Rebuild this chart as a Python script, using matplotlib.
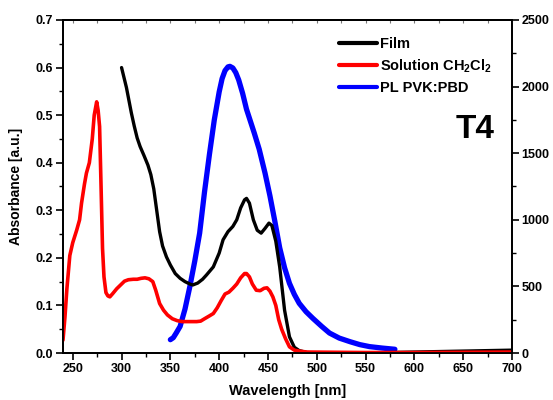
import matplotlib
matplotlib.use("Agg")
import matplotlib.pyplot as plt
from matplotlib.ticker import MultipleLocator, FormatStrFormatter, NullFormatter

plt.rcParams['font.family'] = ['Liberation Sans', 'DejaVu Sans']
plt.rcParams['font.weight'] = 'bold'
plt.rcParams['mathtext.default'] = 'regular'

# Film absorbance
film_wl = [300, 305, 310, 313, 316, 319, 323, 327, 330, 333, 336, 339, 342, 346, 350,
           355, 360, 365, 370, 373, 378, 383, 387, 394, 400, 404, 409, 414, 418, 422,
           426, 428, 431, 435, 439, 443, 447, 451, 454, 458, 462, 467, 472, 477, 482,
           490, 500, 550, 600, 650, 700]
film_abs = [0.600, 0.558, 0.505, 0.477, 0.452, 0.434, 0.415, 0.395, 0.375, 0.345, 0.300,
            0.255, 0.225, 0.202, 0.185, 0.167, 0.157, 0.150, 0.145, 0.143, 0.147, 0.155,
            0.164, 0.181, 0.210, 0.238, 0.255, 0.266, 0.280, 0.305, 0.322, 0.325, 0.315,
            0.280, 0.258, 0.252, 0.262, 0.273, 0.268, 0.235, 0.181, 0.090, 0.034, 0.012,
            0.005, 0.001, 0.000, 0.000, 0.002, 0.004, 0.006]

# Solution in CH2Cl2 absorbance
sol_wl = [240, 242, 244, 247, 250, 254, 257, 259, 262, 264, 267, 270, 272, 274.5, 276,
          277.5, 279, 280.5, 282, 284, 286, 288, 291, 295, 299, 303, 307, 312, 316, 320,
          324, 328, 332, 335, 339, 343, 347, 352, 357, 362, 367, 372, 377, 381, 385,
          390, 394, 398, 402, 406, 410, 414, 418, 422, 426, 428, 431, 434, 438, 442,
          446, 449, 452, 455, 458, 461, 464, 468, 472, 477, 482, 490, 550, 600, 700]
sol_abs = [0.027, 0.075, 0.135, 0.205, 0.232, 0.258, 0.280, 0.315, 0.355, 0.378, 0.400,
           0.450, 0.500, 0.528, 0.510, 0.476, 0.350, 0.220, 0.160, 0.127, 0.120, 0.118,
           0.125, 0.135, 0.143, 0.151, 0.154, 0.155, 0.155, 0.157, 0.158, 0.156, 0.150,
           0.132, 0.104, 0.090, 0.080, 0.072, 0.068, 0.066, 0.066, 0.066, 0.066, 0.067,
           0.072, 0.078, 0.083, 0.095, 0.110, 0.124, 0.128, 0.136, 0.145, 0.158, 0.167,
           0.167, 0.160, 0.145, 0.132, 0.131, 0.136, 0.137, 0.130, 0.118, 0.100, 0.070,
           0.050, 0.030, 0.013, 0.006, 0.004, 0.002, 0.001, 0.001, 0.002]

# Photoluminescence in PVK:PBD (right axis)
pl_wl = [350, 353, 356, 360, 365, 370, 375, 380, 385, 390, 395, 400, 403, 406, 409,
         411, 414, 417, 420, 424, 428, 432, 436, 441, 447, 452, 457, 462, 467, 472,
         477, 482, 489, 496, 505, 513, 523, 534, 544, 554, 567, 580]
pl_int = [100, 115, 150, 200, 330, 500, 690, 900, 1210, 1490, 1750, 1960, 2060, 2120,
          2148, 2152, 2140, 2105, 2050, 1950, 1830, 1740, 1650, 1530, 1350, 1180, 990,
          790, 640, 523, 440, 373, 310, 260, 200, 150, 112, 85, 63, 48, 37, 28]

legend_labels = ['Film', 'Solution CH$_2$Cl$_2$', 'PL PVK:PBD']

fig = plt.figure(figsize=(5.53, 4.0), dpi=100)
ax = fig.add_axes([0.1139, 0.1175, 0.8120, 0.8325])
ax2 = ax.twinx()

l1, = ax.plot(film_wl, film_abs, color='black', lw=2.4, solid_capstyle='round')
l2, = ax.plot(sol_wl, sol_abs, color='#ff0000', lw=2.6, solid_capstyle='round')
l3, = ax2.plot(pl_wl, pl_int, color='#0000ff', lw=3.8, solid_capstyle='round')
ax.set_zorder(ax2.get_zorder() + 1)
ax.patch.set_visible(False)

ax.set_xlim(240, 700)
ax.set_ylim(0, 0.7)
ax2.set_ylim(0, 2500)

ax.set_xticks(range(250, 701, 50))
ax.xaxis.set_minor_locator(MultipleLocator(25))
ax.yaxis.set_major_locator(MultipleLocator(0.1))
ax.yaxis.set_minor_locator(MultipleLocator(0.05))
ax2.yaxis.set_major_locator(MultipleLocator(500))
ax2.yaxis.set_minor_locator(MultipleLocator(250))

for a in (ax, ax2):
    for s in a.spines.values():
        s.set_linewidth(1.3)

ax.tick_params(axis='both', which='major', direction='out', length=5, width=1.2,
               labelsize=9, pad=2)
ax.tick_params(axis='both', which='minor', direction='out', length=3, width=1.0)
ax2.tick_params(axis='y', which='major', direction='out', length=5, width=1.2,
                labelsize=9, pad=2)
ax2.tick_params(axis='y', which='minor', direction='out', length=3, width=1.0)

# faint inward ticks along the top edge
top = ax.secondary_xaxis('top')
top.set_xticks(range(250, 701, 25))
top.xaxis.set_major_formatter(NullFormatter())
top.tick_params(direction='in', length=2, width=0.8, color='#777777')
top.spines['top'].set_linewidth(1.3)

ax.yaxis.set_major_formatter(FormatStrFormatter('%.1f'))
for lab in ax.get_xticklabels() + ax.get_yticklabels() + ax2.get_yticklabels():
    lab.set_fontweight('bold')

ax.set_xlabel('Wavelength [nm]', fontsize=10.5, fontweight='bold', labelpad=7)
ax.set_ylabel('Absorbance [a.u.]', fontsize=10, fontweight='bold', labelpad=9)

leg = ax.legend([l1, l2, l3], legend_labels, loc='upper left',
                bbox_to_anchor=(0.614, 0.95), frameon=False, fontsize=10.5,
                handlelength=2.6, handletextpad=0.2, borderpad=0,
                borderaxespad=0, labelspacing=0.45)
for t in leg.get_texts():
    t.set_fontweight('bold')
for h in leg.legend_handles:
    h.set_linewidth(3)

ax.text(0.962, 0.6456, 'T4', transform=ax.transAxes, ha='right', va='baseline',
        fontsize=24, fontweight='bold')

fig.savefig('out.png', dpi=100)
